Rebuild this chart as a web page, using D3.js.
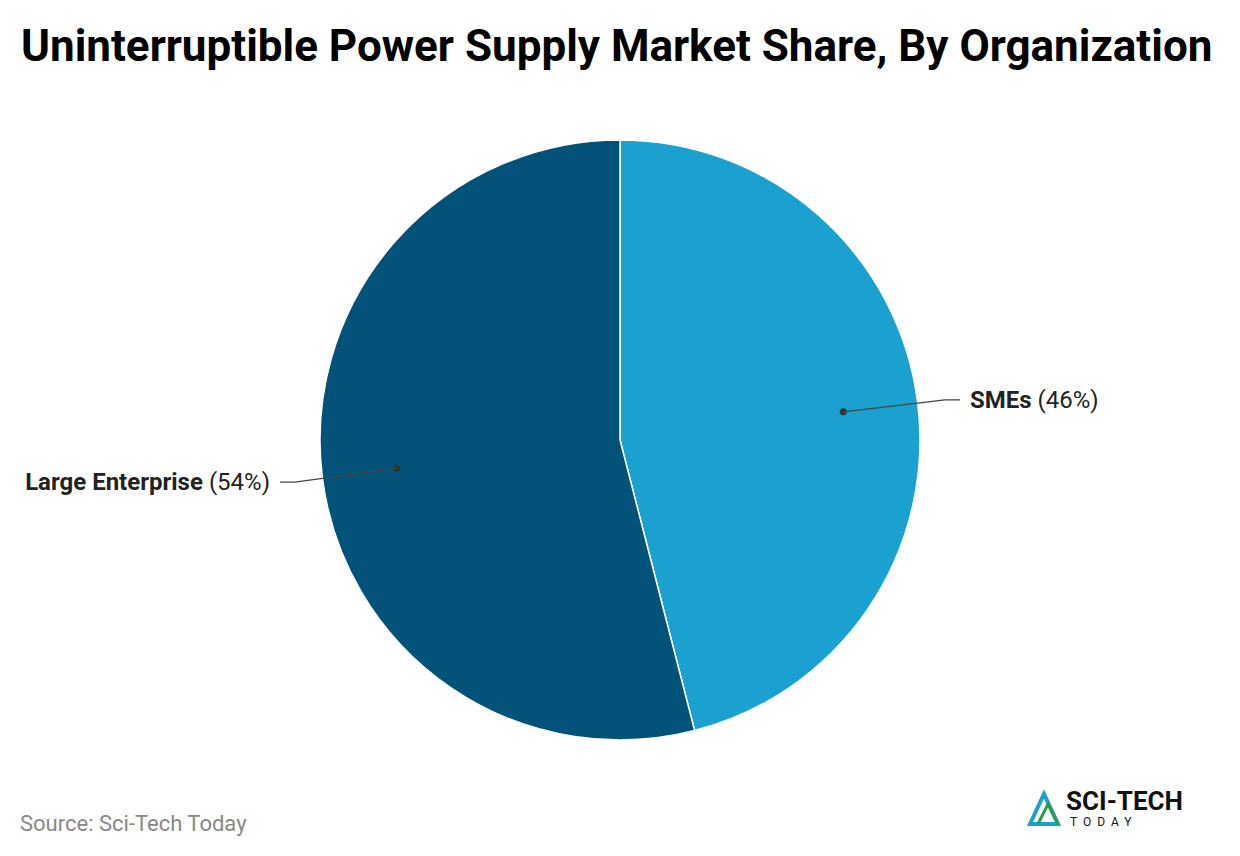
<!DOCTYPE html>
<html><head><meta charset="utf-8">
<script src="https://cdn.jsdelivr.net/npm/d3@7"></script>
<style>body{margin:0;background:#fff;font-family:Roboto,sans-serif}</style>
</head><body><svg id="c" width="1240" height="856"></svg>
<script>
const categories=["SMEs","Large Enterprise"];
const values=[46,54];
const colors=["#1ba1cf","#03527a"];
const svg=d3.select("#c");
svg.append("text").attr("x",21).attr("y",61).attr("font-size",44).attr("font-weight",700).attr("fill","#000").text("Uninterruptible Power Supply Market Share, By Organization");
const cx=620,cy=440,r=300;
const pie=d3.pie().sort(null).value(d=>d)(values);
const arc=d3.arc().innerRadius(0).outerRadius(r);
const g=svg.append("g").attr("transform",`translate(${cx},${cy})`);
g.selectAll("path").data(pie).join("path").attr("d",arc).attr("fill",(d,i)=>colors[i]).attr("stroke","#fff").attr("stroke-width",1.5);
const inner=d3.arc().innerRadius(r*0.75).outerRadius(r*0.75);
pie.forEach((d,i)=>{
  const [x,y]=inner.centroid(d);
  const right=x>0;
  const ex=right?325:-325;
  const ey2=right?y-12:y+14;
  const hx=right?340:-340;
  g.append("circle").attr("cx",x).attr("cy",y).attr("r",3.5).attr("fill","#333");
  g.append("polyline").attr("points",`${x},${y} ${ex},${ey2} ${hx},${ey2}`).attr("fill","none").attr("stroke","#444").attr("stroke-width",1.2);
  const t=g.append("text").attr("x",right?hx+10:hx-10).attr("y",ey2+8).attr("text-anchor",right?"start":"end").attr("font-size",24).attr("fill","#222");
  t.append("tspan").attr("font-weight",700).text(categories[i]);
  t.append("tspan").text(` (${values[i]}%)`);
});
svg.append("text").attr("x",20).attr("y",831).attr("font-size",22).attr("fill","#888").text("Source: Sci-Tech Today");
const lg=svg.append("g").attr("transform","translate(1030,788)");
lg.append("path").attr("d","M0,36 L14,6 L28,36 Z").attr("fill","none").attr("stroke","#1ba1cf").attr("stroke-width",4);
lg.append("path").attr("d","M8,36 L18,16 L28,36").attr("fill","none").attr("stroke","#2a9d4a").attr("stroke-width",3);
lg.append("text").attr("x",36).attr("y",22).attr("font-size",26).attr("font-weight",700).attr("fill","#111").text("SCI-TECH");
lg.append("text").attr("x",40).attr("y",38).attr("font-size",12).attr("letter-spacing",6).attr("fill","#111").text("TODAY");
</script></body></html>
